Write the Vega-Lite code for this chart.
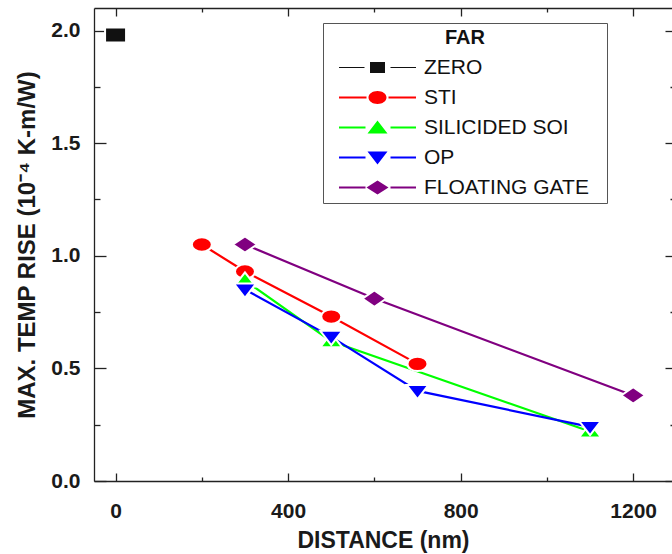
{
  "$schema": "https://vega.github.io/schema/vega-lite/v6.json",
  "width": 578,
  "height": 473,
  "autosize": {"type": "none"},
  "padding": {"left": 94, "top": 8, "right": 0, "bottom": 73},
  "background": "white",
  "config": {
    "view": {"stroke": null},
    "font": "Liberation Sans",
    "axis": {
      "grid": false,
      "domainColor": "#222222",
      "domainWidth": 1.3,
      "tickColor": "#222222",
      "tickWidth": 1.3,
      "labelFont": "Liberation Sans",
      "labelFontWeight": "bold",
      "labelFontSize": 21,
      "labelColor": "#1a1a1a",
      "titleFont": "Liberation Sans",
      "titleFontWeight": "bold",
      "titleFontSize": 23,
      "titleColor": "#1a1a1a"
    }
  },
  "data": {
    "values": [
      {"series": "ZERO", "x": 0, "y": 1.98},
      {"series": "STI", "x": 200, "y": 1.05},
      {"series": "STI", "x": 300, "y": 0.93},
      {"series": "STI", "x": 500, "y": 0.73},
      {"series": "STI", "x": 700, "y": 0.52},
      {"series": "SILICIDED SOI", "x": 300, "y": 0.89},
      {"series": "SILICIDED SOI", "x": 500, "y": 0.62},
      {"series": "SILICIDED SOI", "x": 1100, "y": 0.22},
      {"series": "OP", "x": 300, "y": 0.85},
      {"series": "OP", "x": 500, "y": 0.64},
      {"series": "OP", "x": 700, "y": 0.40},
      {"series": "OP", "x": 1100, "y": 0.24},
      {"series": "FLOATING GATE", "x": 300, "y": 1.05},
      {"series": "FLOATING GATE", "x": 600, "y": 0.81},
      {"series": "FLOATING GATE", "x": 1200, "y": 0.38}
    ]
  },
  "layer": [
    {
      "transform": [{"filter": "datum.series !== 'ZERO'"}],
      "mark": {"type": "line", "strokeWidth": 2.2},
      "encoding": {
        "x": {
          "field": "x", "type": "quantitative",
          "scale": {"domain": [-50, 1290], "nice": false, "zero": false},
          "axis": {"orient": "bottom", "values": [0, 400, 800, 1200], "format": "d", "tickSize": -8, "labelPadding": 27, "title": "DISTANCE (nm)", "titlePadding": 8}
        },
        "y": {
          "field": "y", "type": "quantitative",
          "scale": {"domain": [0, 2.1], "nice": false, "zero": false},
          "axis": {"orient": "left", "values": [0, 0.5, 1, 1.5, 2], "format": ".1f", "tickSize": -12, "labelPadding": 26, "title": "MAX. TEMP RISE (10⁻⁴ K-m/W)", "titleFontSize": 24, "titlePadding": 11}
        },
        "color": {
          "field": "series", "type": "nominal",
          "scale": {"domain": ["ZERO", "STI", "SILICIDED SOI", "OP", "FLOATING GATE"], "range": ["#111111", "#ff0000", "#00ff00", "#0000ff", "#800080"]}
        }
      }
    },
    {
      "transform": [{"filter": "datum.series === 'ZERO'"}],
      "mark": {"type": "point", "filled": true, "opacity": 1, "size": 4, "stroke": "white", "strokeWidth": 2, "shape": "M-10.5,-7.5H10.5V7.5H-10.5Z"},
      "encoding": {
        "x": {"field": "x", "type": "quantitative", "axis": {"orient": "bottom", "values": [200, 600, 1000], "tickSize": -4, "labels": false, "domain": false, "title": null}},
        "y": {"field": "y", "type": "quantitative", "axis": {"orient": "left", "values": [0.25, 0.75, 1.25, 1.75], "tickSize": -6, "labels": false, "domain": false, "title": null}},
        "color": {
          "field": "series", "type": "nominal",
          "legend": {
            "orient": "none", "legendX": 229, "legendY": 15,
            "title": "FAR", "padding": 5, "strokeColor": "#555555", "fillColor": "white",
            "titleFont": "Liberation Sans", "titleFontSize": 20, "titleFontWeight": "bold", "titleColor": "#111111", "titleAnchor": "middle", "titlePadding": 9,
            "labelFont": "Liberation Sans", "labelFontSize": 21, "labelColor": "#111111", "labelOffset": 75, "labelLimit": 300,
            "rowPadding": 8, "symbolSize": 4, "symbolStrokeWidth": 0,
            "symbolType": {"expr": "datum.value === 'ZERO' ? 'M0.5,-0.5H26V0.5H0.5Z M52,-0.5H77.5V0.5H52Z M31.5,-5.5H46.5V5.5H31.5Z M263,0L263,0.01Z' : datum.value === 'STI' ? 'M0.5,-1H28V1H0.5Z M50,-1H77.5V1H50Z M30,0A9,6.5 0 1 1 48,0A9,6.5 0 1 1 30,0Z M263,0L263,0.01Z' : datum.value === 'SILICIDED SOI' ? 'M0.5,-1H27V1H0.5Z M52,-1H77.5V1H52Z M39,-7L49,6L29,6Z M263,0L263,0.01Z' : datum.value === 'OP' ? 'M0.5,-1H27V1H0.5Z M52,-1H77.5V1H52Z M29,-6L49,-6L39,7Z M263,0L263,0.01Z' : 'M0.5,-1H27V1H0.5Z M52,-1H77.5V1H52Z M39,-7L50,0L39,7L28,0Z M263,0L263,0.01Z'"},
            "encode": {
              "symbols": {
                "size": {"value": 4},
                "fill": {"value": {"expr": "scale('color', datum.value)"}},
                "stroke": {"value": "transparent"},
                "strokeWidth": {"value": 0},
                "opacity": {"value": 1}
              }
            }
          }
        }
      }
    },
    {
      "transform": [{"filter": "datum.series === 'STI'"}],
      "mark": {"type": "point", "filled": true, "opacity": 1, "size": 4, "stroke": "white", "strokeWidth": 2, "shape": "M-10,0A10,7.2 0 1 1 10,0A10,7.2 0 1 1 -10,0Z"},
      "encoding": {
        "x": {"field": "x", "type": "quantitative", "axis": null},
        "y": {"field": "y", "type": "quantitative", "axis": null},
        "color": {"field": "series", "type": "nominal"}
      }
    },
    {
      "transform": [{"filter": "datum.series === 'SILICIDED SOI'"}],
      "mark": {"type": "point", "filled": true, "opacity": 1, "size": 4, "stroke": "white", "strokeWidth": 2, "shape": "M0,-8.2L11,6L-11,6Z"},
      "encoding": {
        "x": {"field": "x", "type": "quantitative", "axis": null},
        "y": {"field": "y", "type": "quantitative", "axis": null},
        "color": {"field": "series", "type": "nominal"}
      }
    },
    {
      "transform": [{"filter": "datum.series === 'OP'"}],
      "mark": {"type": "point", "filled": true, "opacity": 1, "size": 4, "stroke": "white", "strokeWidth": 2, "shape": "M-11,-6L11,-6L0,8.2Z"},
      "encoding": {
        "x": {"field": "x", "type": "quantitative", "axis": null},
        "y": {"field": "y", "type": "quantitative", "axis": null},
        "color": {"field": "series", "type": "nominal"}
      }
    },
    {
      "transform": [{"filter": "datum.series === 'FLOATING GATE'"}],
      "mark": {"type": "point", "filled": true, "opacity": 1, "size": 4, "stroke": "white", "strokeWidth": 2, "shape": "M0,-8.2L12,0L0,8.2L-12,0Z"},
      "encoding": {
        "x": {"field": "x", "type": "quantitative", "axis": null},
        "y": {"field": "y", "type": "quantitative", "axis": null},
        "color": {"field": "series", "type": "nominal"}
      }
    },
    {
      "mark": {"type": "point", "opacity": 0},
      "encoding": {
        "x": {"field": "x", "type": "quantitative", "axis": {"orient": "top", "values": [0, 400, 800, 1200], "tickSize": -8, "labels": false, "domain": true, "title": null}},
        "y": {"field": "y", "type": "quantitative", "axis": {"orient": "right", "values": [0, 0.5, 1, 1.5, 2], "tickSize": -7, "labels": false, "domain": false, "title": null}}
      }
    },
    {
      "mark": {"type": "point", "opacity": 0},
      "encoding": {
        "x": {"field": "x", "type": "quantitative", "axis": {"orient": "top", "values": [200, 600, 1000], "tickSize": -4, "labels": false, "domain": false, "title": null}},
        "y": {"field": "y", "type": "quantitative", "axis": {"orient": "right", "values": [0.25, 0.75, 1.25, 1.75], "tickSize": -2, "labels": false, "domain": false, "title": null}}
      }
    }
  ],
  "resolve": {"axis": {"x": "independent", "y": "independent"}}
}
